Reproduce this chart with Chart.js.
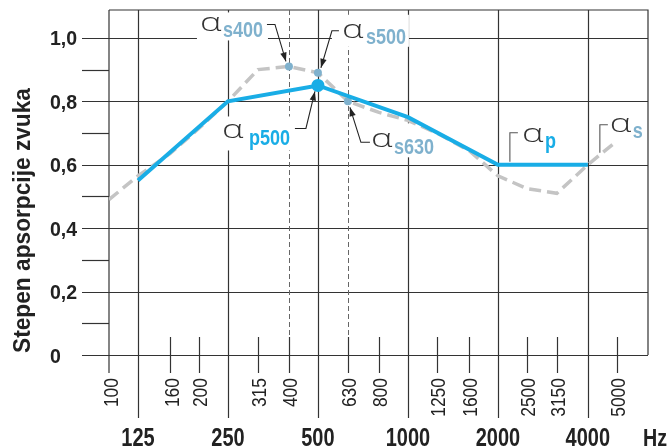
<!DOCTYPE html>
<html>
<head>
<meta charset="utf-8">
<script src="https://cdn.jsdelivr.net/npm/chart.js@4.4.1/dist/chart.umd.min.js"></script>
<style>
  html, body { margin: 0; padding: 0; background: #fff; }
</style>
</head>
<body>
<canvas id="chart" width="669" height="448"></canvas>
<script>
// octave bands - alpha p (practical)
const octaveBands = [125, 250, 500, 1000, 2000, 4000];
const alphaP = [0.55, 0.80, 0.85, 0.75, 0.60, 0.60];

// third-octave bands - alpha s
const thirdBands = [100, 125, 160, 200, 250, 315, 400, 500, 630, 800, 1000, 1250, 1600, 2000, 2500, 3150, 4000, 5000];
const alphaS = [0.49, 0.565, 0.635, 0.715, 0.80, 0.90, 0.91, 0.89, 0.80, 0.765, 0.74, 0.70, 0.645, 0.565, 0.525, 0.51, 0.60, 0.675];
const markedBands = [400, 500, 630];

// tick labels
const octaveLabels = ["125", "250", "500", "1000", "2000", "4000"];
const thirdTicks = [100, 160, 200, 315, 400, 630, 800, 1250, 1600, 2500, 3150, 5000];
const thirdLabels = ["100", "160", "200", "315", "400", "630", "800", "1250", "1600", "2500", "3150", "5000"];
const yMajor = [0, 0.2, 0.4, 0.6, 0.8, 1.0];
const yMajorLabels = ["0", "0,2", "0,4", "0,6", "0,8", "1,0"];
const yMinor = [0.1, 0.3, 0.5, 0.7, 0.9];
const yTitle = "Stepen apsorpcije zvuka";

const blue = '#19ade6';
const steel = '#7fb1cd';
const grey = '#c4c4c4';
const ink = '#333';
const sans = "'Liberation Sans', Arial, sans-serif";

const txt = (ctx, s, x, y, font, color, sx, align, rot) => {
    ctx.save();
    ctx.translate(x, y);
    if (rot) ctx.rotate(rot);
    ctx.scale(sx, 1);
    ctx.font = font;
    ctx.fillStyle = color;
    ctx.textAlign = align || 'left';
    ctx.textBaseline = 'alphabetic';
    ctx.fillText(s, 0, 0);
    ctx.restore();
};

const line = (ctx, pts, dash) => {
    ctx.beginPath();
    ctx.setLineDash(dash || []);
    ctx.moveTo(pts[0][0], pts[0][1]);
    for (let i = 1; i < pts.length; i++) ctx.lineTo(pts[i][0], pts[i][1]);
    ctx.stroke();
    ctx.setLineDash([]);
};

const arrowTo = (ctx, x0, y0, x1, y1) => {
    const a = Math.atan2(y1 - y0, x1 - x0);
    const len = 9, w = 3.2;
    ctx.beginPath();
    ctx.moveTo(x1, y1);
    ctx.lineTo(x1 - len * Math.cos(a) + w * Math.sin(a), y1 - len * Math.sin(a) - w * Math.cos(a));
    ctx.lineTo(x1 - len * Math.cos(a) - w * Math.sin(a), y1 - len * Math.sin(a) + w * Math.cos(a));
    ctx.closePath();
    ctx.fill();
};

// labels: anchor band/value, offsets in px from anchor
const notes = [
    { f: 400, v: alphaS[6], sub: 's400', col: steel, ax: -89, ay: -35, sxo: -66, syo: -29,
      lead: [[-22, -42], [-14, -42], [-3, -5]], arrow: true, box: [-92, -54, 71, 28] },
    { f: 500, v: alphaS[7], sub: 's500', col: steel, ax: 24, ay: -35, sxo: 48, syo: -29,
      lead: [[21, -42], [14, -42], [3, -5]], arrow: true, box: [14, -58, 77, 32] },
    { f: 500, v: alphaP[2], sub: 'p500', col: blue, ax: -96, ay: 53, sxo: -69, syo: 60,
      lead: [[-23, 43], [-12, 43], [-3, 6]], arrow: true, box: [-99, 31, 80, 34] },
    { f: 630, v: alphaS[8], sub: 's630', col: steel, ax: 23, ay: 46, sxo: 46, syo: 53,
      lead: [[22, 41], [13, 41], [2, 6]], arrow: true, box: [12, 22, 80, 34] },
    { f: 2000, v: alphaP[4], sub: 'p', col: blue, ax: 24, ay: -23, sxo: 47, syo: -17,
      lead: [[12, -3], [12, -32], [20, -32]], arrow: false, box: null },
    { f: 4000, v: alphaS[16], sub: 's', col: steel, ax: 22, ay: -33, sxo: 45, syo: -27,
      lead: [[12, -12], [12, -40], [20, -40]], arrow: false, box: null }
];

const framePlugin = {
    id: 'frame',
    beforeDatasetsDraw(chart) {
        const ctx = chart.ctx;
        const xs = chart.scales.x, ys = chart.scales.y;
        const a = chart.chartArea;
        const left = a.left, right = a.right, top = a.top, bottom = a.bottom;
        ctx.save();
        ctx.strokeStyle = ink;
        ctx.lineWidth = 1.2;
        // horizontal grid
        for (const v of yMajor) {
            const y = Math.round(ys.getPixelForValue(v)) + 0.5;
            line(ctx, [[left - 27, y], [right, y]]);
        }
        for (const v of yMinor) {
            const y = Math.round(ys.getPixelForValue(v)) + 0.5;
            line(ctx, [[left - 27, y], [left, y]]);
        }
        // frame
        line(ctx, [[left, top], [right, top], [right, bottom]]);
        line(ctx, [[left, top], [left, bottom + 18]]);
        // octave lines
        for (const f of octaveBands) {
            const x = Math.round(xs.getPixelForValue(f)) + 0.5;
            line(ctx, [[x, top], [x, bottom + 63]]);
        }
        // third octave ticks
        for (const f of thirdTicks) {
            if (f === 100) continue;
            const x = Math.round(xs.getPixelForValue(f)) + 0.5;
            line(ctx, [[x, bottom - 18], [x, bottom + 18]]);
            if (markedBands.includes(f)) {
                ctx.strokeStyle = '#666';
                ctx.lineWidth = 1;
                line(ctx, [[x, top], [x, bottom - 18]], [5, 3]);
                ctx.strokeStyle = ink;
                ctx.lineWidth = 1.2;
            }
        }
        // white boxes behind notes
        ctx.fillStyle = '#fff';
        for (const n of notes) {
            if (!n.box) continue;
            const px = xs.getPixelForValue(n.f), py = ys.getPixelForValue(n.v);
            ctx.fillRect(px + n.box[0], py + n.box[1], n.box[2], n.box[3]);
        }
        ctx.restore();
    },
    afterDatasetsDraw(chart) {
        const ctx = chart.ctx;
        const xs = chart.scales.x, ys = chart.scales.y;
        const a = chart.chartArea;
        ctx.save();
        // y labels
        for (let i = 0; i < yMajor.length; i++) {
            const y = ys.getPixelForValue(yMajor[i]);
            txt(ctx, yMajorLabels[i], 50, y + 7.5, 'bold 21px ' + sans, '#222', 0.93);
        }
        // y title
        ctx.font = 'bold 24px ' + sans;
        const tw = ctx.measureText(yTitle).width;
        txt(ctx, yTitle, 30, 220.5, 'bold 24px ' + sans, '#222', 265 / tw, 'center', -Math.PI / 2);
        // third octave labels
        for (let i = 0; i < thirdTicks.length; i++) {
            const x = xs.getPixelForValue(thirdTicks[i]);
            txt(ctx, thirdLabels[i], x + 8.5, a.bottom + 23, '21px ' + sans, '#222', 0.83, 'right', -Math.PI / 2);
        }
        // octave labels
        for (let i = 0; i < octaveBands.length; i++) {
            const x = xs.getPixelForValue(octaveBands[i]);
            txt(ctx, octaveLabels[i], x, 446, 'bold 25px ' + sans, '#222', 0.8, 'center');
        }
        txt(ctx, 'Hz', 643, 446, 'bold 24px ' + sans, '#222', 0.82);
        // notes
        ctx.lineWidth = 1.1;
        for (const n of notes) {
            const px = xs.getPixelForValue(n.f), py = ys.getPixelForValue(n.v);
            const pts = n.lead.map(p => [px + p[0], py + p[1]]);
            ctx.strokeStyle = n.arrow ? '#222' : '#555';
            line(ctx, pts);
            if (n.arrow) {
                const k = pts.length - 1;
                ctx.fillStyle = '#222';
                arrowTo(ctx, pts[k - 1][0], pts[k - 1][1], pts[k][0], pts[k][1]);
            }
            txt(ctx, '\u03b1', px + n.ax, py + n.ay, "300 25px 'Open Sans', " + sans, '#333', 1.45);
            txt(ctx, n.sub, px + n.sxo, py + n.syo, 'bold 22px ' + sans, n.col, 0.82);
        }
        ctx.restore();
    }
};

new Chart(document.getElementById('chart'), {
    type: 'scatter',
    data: {
        datasets: [{
            label: 'alpha p',
            data: octaveBands.map((f, i) => ({ x: f, y: alphaP[i] })),
            showLine: true,
            borderColor: blue,
            backgroundColor: blue,
            borderWidth: 4,
            pointRadius: octaveBands.map(f => f === 500 ? 6.5 : 0),
            pointBorderWidth: 0,
            order: 0
        }, {
            label: 'alpha s',
            data: thirdBands.map((f, i) => ({ x: f, y: alphaS[i] })),
            showLine: true,
            borderColor: grey,
            backgroundColor: steel,
            borderWidth: 3.5,
            borderDash: [12, 6],
            pointRadius: thirdBands.map(f => markedBands.includes(f) ? 4 : 0),
            pointBorderWidth: 0,
            order: 1
        }]
    },
    options: {
        responsive: false,
        animation: false,
        devicePixelRatio: 1,
        layout: { padding: { left: 109, right: 21, top: 10, bottom: 93 } },
        plugins: { legend: { display: false }, tooltip: { enabled: false } },
        scales: {
            x: { type: 'logarithmic', min: 100, max: 6357, display: false },
            y: { min: 0, max: 1.088, display: false }
        }
    },
    plugins: [framePlugin]
});
</script>
</body>
</html>
